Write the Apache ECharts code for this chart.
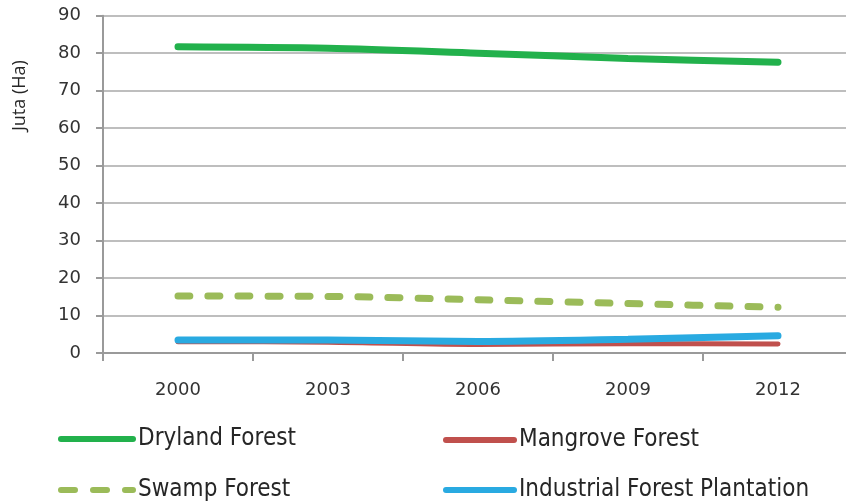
<!DOCTYPE html>
<html>
<head>
<meta charset="utf-8">
<style>
  html, body { margin: 0; padding: 0; background: #fff; }
  #chart { width: 846px; height: 501px; }
</style>
<script src="https://cdn.jsdelivr.net/npm/echarts@6/dist/echarts.min.js"></script>
</head>
<body>
<div id="chart"></div>
<script>
// Forest cover in Indonesia by type, million hectares
const years = ['2000', '2003', '2006', '2009', '2012'];
const dryland = [81.7, 81.3, 80.0, 78.6, 77.6];
const mangrove = [3.0, 2.9, 2.3, 2.5, 2.4];
const swamp = [15.2, 15.1, 14.2, 13.2, 12.2];
const plantation = [3.5, 3.5, 3.1, 3.7, 4.6];
const seriesNames = ['Dryland Forest', 'Mangrove Forest', 'Swamp Forest', 'Industrial Forest Plantation'];

const COLORS = {
  dryland: '#22b14c',
  mangrove: '#c0504d',
  swamp: '#9bbb59',
  plantation: '#29aae1'
};

const legendFont = {
  fontFamily: '"Liberation Sans Narrow", "DejaVu Sans Condensed", "Open Sans", sans-serif',
  fontSize: 24,
  lineHeight: 28,
  color: '#262626'
};

function legendAt(name, left, top, width, lineStyle) {
  return {
    data: [name],
    left: left,
    top: top,
    padding: 0,
    itemWidth: width,
    itemHeight: 14,
    itemGap: 0,
    selectedMode: false,
    textStyle: legendFont,
    itemStyle: { opacity: 0 },
    lineStyle: lineStyle
  };
}

const chart = echarts.init(document.getElementById('chart'), null, { renderer: 'canvas' });

chart.setOption({
  animation: false,
  backgroundColor: '#ffffff',
  grid: {
    left: 103, width: 750, top: 15.7, bottom: 148,
    containLabel: false, outerBoundsMode: 'none'
  },
  xAxis: {
    type: 'category',
    data: years,
    boundaryGap: true,
    axisLine: { show: true, lineStyle: { color: '#9a9a9a', width: 2 } },
    axisTick: { show: true, length: 8, lineStyle: { color: '#9a9a9a', width: 2 } },
    axisLabel: {
      margin: 28,
      fontFamily: '"DejaVu Sans", sans-serif',
      fontSize: 18,
      color: '#333333'
    },
    splitLine: { show: false }
  },
  yAxis: {
    type: 'value',
    min: 0,
    max: 90,
    interval: 10,
    axisLine: { show: true, lineStyle: { color: '#9a9a9a', width: 2 } },
    axisTick: { show: true, length: 7, lineStyle: { color: '#9a9a9a', width: 2 } },
    axisLabel: {
      margin: 22,
      fontFamily: '"DejaVu Sans", sans-serif',
      fontSize: 18,
      color: '#333333'
    },
    splitLine: { show: true, lineStyle: { color: '#a8a8a8', width: 1.6 } }
  },
  graphic: [{
    type: 'text',
    x: 11,
    y: 131,
    rotation: Math.PI / 2,
    style: {
      text: 'Juta (Ha)',
      font: '18px "Open Sans", sans-serif',
      fill: '#262626',
      textAlign: 'left',
      textVerticalAlign: 'top'
    }
  }],
  legend: [
    legendAt(seriesNames[0], 58, 425, 72, { width: 6, cap: 'round', type: 'solid' }),
    legendAt(seriesNames[1], 443, 426, 68, { width: 6, cap: 'round', type: 'solid' }),
    legendAt(seriesNames[2], 58, 476, 72, { width: 6, cap: 'round', type: [14, 18] }),
    legendAt(seriesNames[3], 443, 476, 68, { width: 6, cap: 'round', type: 'solid' })
  ],
  series: [
    {
      name: seriesNames[0], type: 'line', data: dryland, symbol: 'none', smooth: 0.3,
      color: COLORS.dryland,
      lineStyle: { color: COLORS.dryland, width: 7, cap: 'round' }, z: 4
    },
    {
      name: seriesNames[1], type: 'line', data: mangrove, symbol: 'none', smooth: 0.3,
      color: COLORS.mangrove,
      lineStyle: { color: COLORS.mangrove, width: 5, cap: 'round' }, z: 2
    },
    {
      name: seriesNames[2], type: 'line', data: swamp, symbol: 'none', smooth: 0.3,
      color: COLORS.swamp,
      lineStyle: { color: COLORS.swamp, width: 7, cap: 'round', type: [12, 18] }, z: 3
    },
    {
      name: seriesNames[3], type: 'line', data: plantation, symbol: 'none', smooth: 0.3,
      color: COLORS.plantation,
      lineStyle: { color: COLORS.plantation, width: 7, cap: 'round' }, z: 3
    }
  ]
});
</script>
</body>
</html>
